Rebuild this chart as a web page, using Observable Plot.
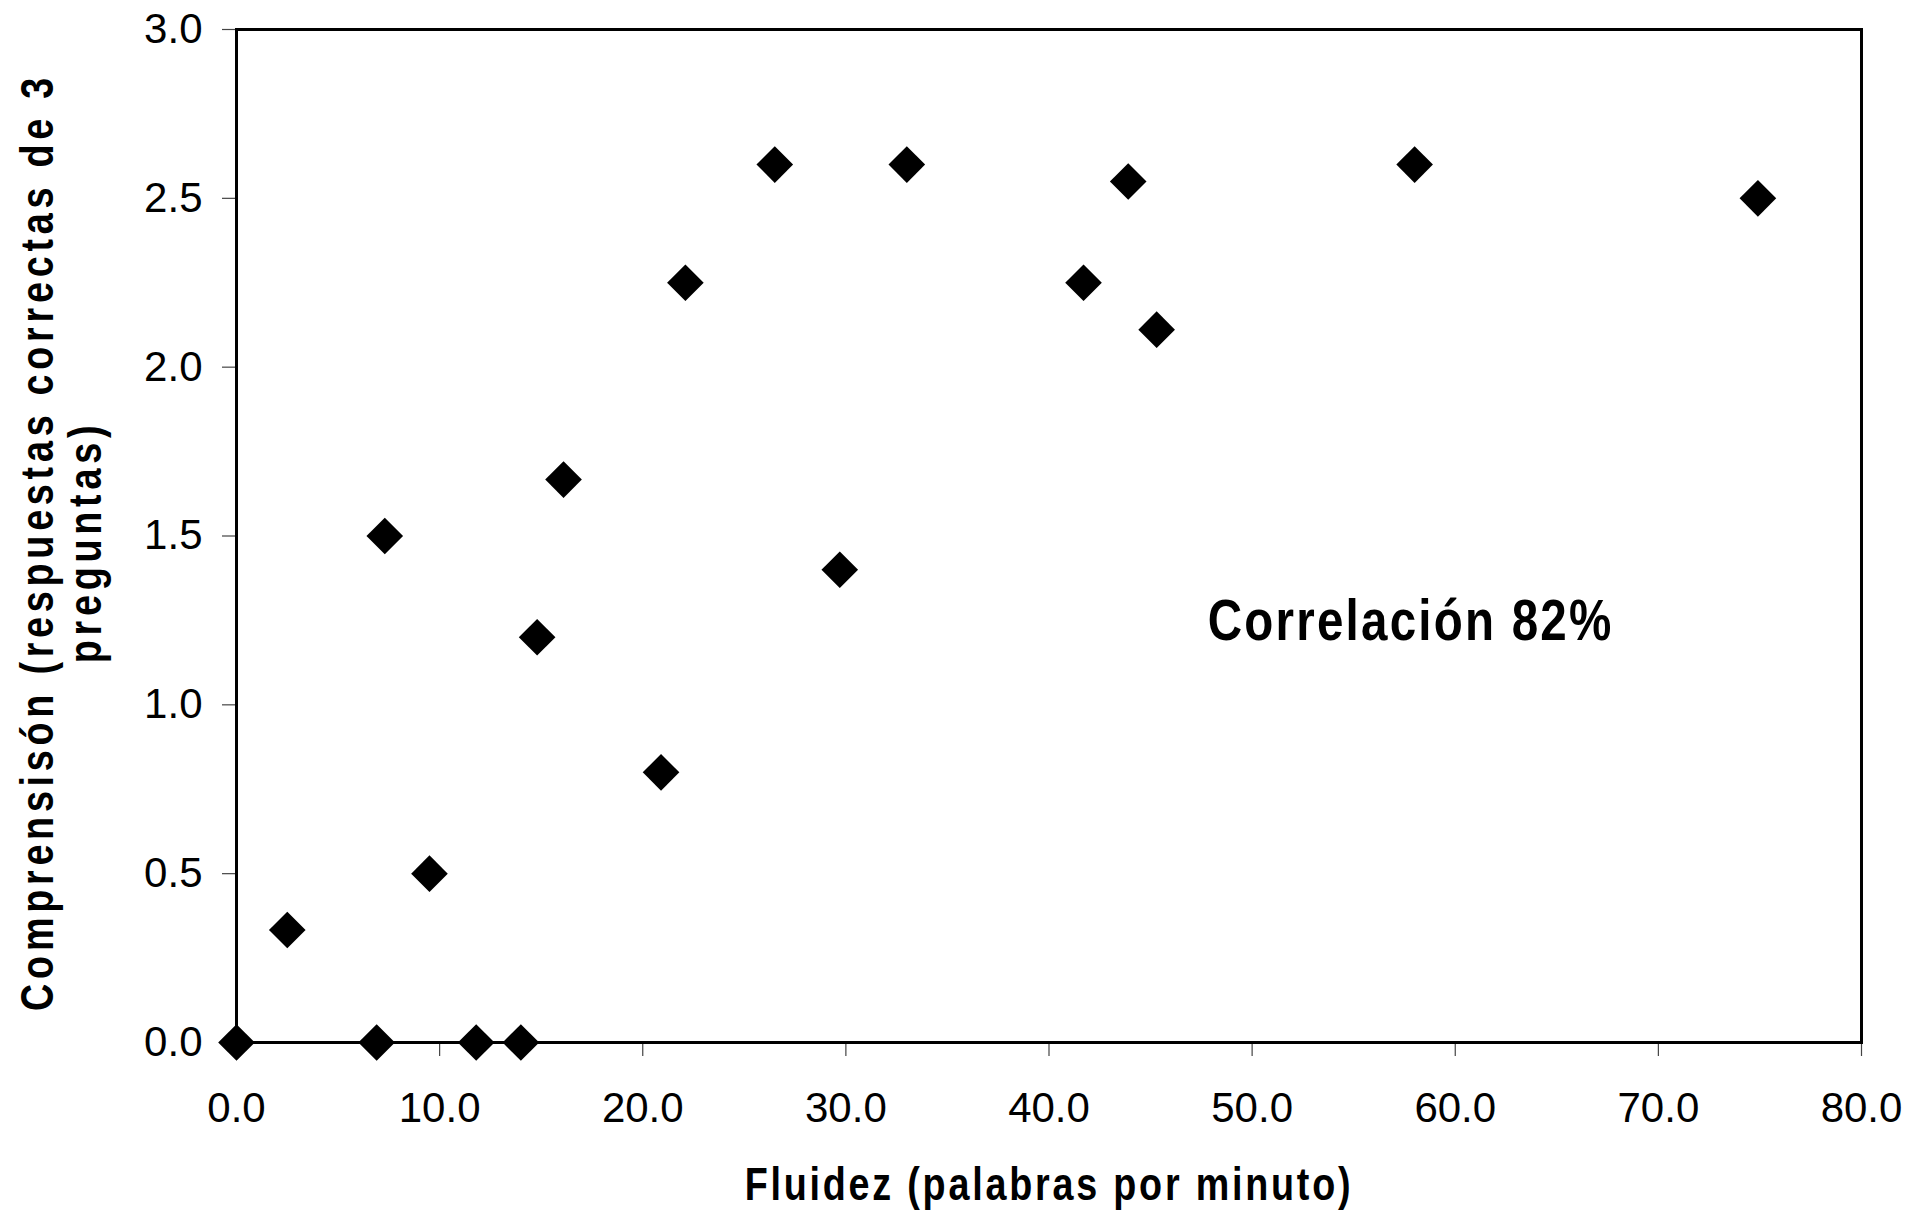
<!DOCTYPE html>
<html><head><meta charset="utf-8">
<script src="https://cdn.jsdelivr.net/npm/d3@7"></script>
<script src="https://cdn.jsdelivr.net/npm/@observablehq/plot@0.6"></script>
<style>
html,body{margin:0;padding:0;background:#fff;}
#chart{width:1911px;height:1215px;}
</style></head>
<body><div id="chart"></div>
<script>
// Data
const fluidez = [0, 2.5, 6.9, 7.3, 9.5, 11.8, 14.0, 14.8, 16.1, 20.9, 22.1, 26.5, 29.7, 33.0, 41.7, 43.9, 45.3, 58.0, 74.9];
const comprension = [0, 0.333, 0, 1.5, 0.5, 0, 0, 1.2, 1.667, 0.8, 2.25, 2.6, 1.4, 2.6, 2.25, 2.55, 2.111, 2.6, 2.5];
const xTicks = [0, 10, 20, 30, 40, 50, 60, 70, 80];
const yTicks = [0, 0.5, 1.0, 1.5, 2.0, 2.5, 3.0];
const xTitle = "Fluidez (palabras por minuto)";
const yTitle = "Comprensisón (respuestas correctas de 3\npreguntas)";
const annotationText = ["Correlación 82%"];
const annotationX = [57.8];
const annotationY = [1.19];

const data = fluidez.map((x, i) => ({x, y: comprension[i]}));
const notes = annotationText.map((t, i) => ({text: t, x: annotationX[i], y: annotationY[i]}));
const fmt = d3.format(".1f");
const bold = "'Liberation Sans', Arial, sans-serif";

const chart = Plot.plot({
  width: 1911,
  height: 1215,
  marginLeft: 236,
  marginRight: 50,
  marginTop: 29,
  marginBottom: 173,
  style: {fontFamily: "'Liberation Sans', Arial, sans-serif", fontSize: "42px", background: "#fff", color: "#000", overflow: "visible"},
  x: {domain: [0, 80]},
  y: {domain: [0, 3]},
  marks: [
    Plot.axisX({ticks: xTicks, tickFormat: fmt, tickSize: 14, tickPadding: 36, label: null, stroke: "#444", strokeWidth: 1.2, fill: "#000"}),
    Plot.axisY({ticks: yTicks, tickFormat: fmt, tickSize: 14, tickPadding: 20, label: null, stroke: "#444", strokeWidth: 1.2, fill: "#000"}),
    Plot.frame({stroke: "#000", strokeWidth: 3}),
    Plot.dot(data, {x: "x", y: "y", symbol: "diamond2", r: 16.5, fill: "#000", stroke: "none"}),
    Plot.text(notes, {x: "x", y: "y", text: "text", fontFamily: bold, fontWeight: "bold", fontSize: 58, lineAnchor: "bottom", textAnchor: "middle", fill: "#000"}),
    Plot.text([xTitle], {frameAnchor: "bottom", dy: 143, lineAnchor: "middle", textAnchor: "middle", fontFamily: bold, fontWeight: "bold", fontSize: 46, fill: "#000"}),
    Plot.text([yTitle], {frameAnchor: "left", dx: -175, dy: 6, rotate: -90, lineAnchor: "middle", textAnchor: "middle", lineHeight: 1.05, fontFamily: bold, fontWeight: "bold", fontSize: 46, fill: "#000"})
  ]
});
document.getElementById("chart").appendChild(chart);
// Condensed bold look with letter spacing, as in the reference; keep each text's centre
function centre(el) {
  const r = el.getBoundingClientRect();
  return [r.left + r.width / 2, r.top + r.height / 2];
}
function condense(prefix, sx, ls) {
  d3.select(chart).selectAll("text").filter(function() {
    return this.textContent.startsWith(prefix);
  }).each(function() {
    const t = d3.select(this);
    const tr = t.attr("transform") || "";
    const [cx0, cy0] = centre(this);
    t.attr("transform", `${tr} scale(${sx},1)`.trim()).style("letter-spacing", ls + "px");
    const [cx1, cy1] = centre(this);
    t.attr("transform", `translate(${cx0 - cx1},${cy0 - cy1}) ${tr} scale(${sx},1)`.trim());
  });
}
condense("Fluidez", 0.82, 3.4);
condense("Comprensis", 0.82, 5.8);
condense("Correlaci", 0.82, 2.7);
</script>
</body></html>
